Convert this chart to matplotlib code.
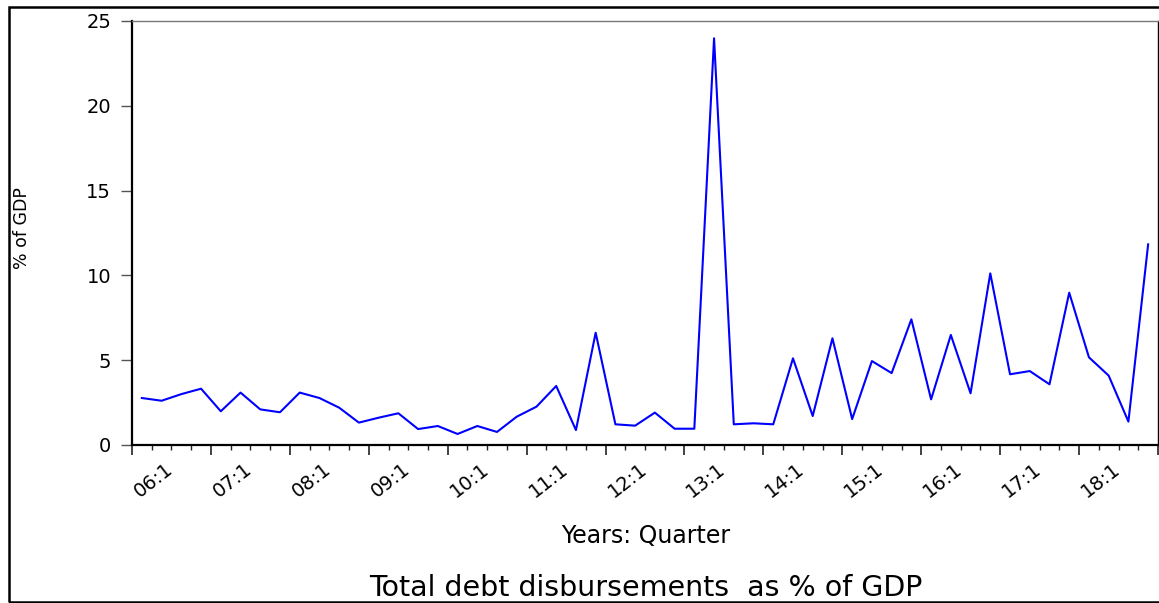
import matplotlib
matplotlib.use("Agg")
import matplotlib.pyplot as plt
import matplotlib.transforms as mtransforms
from matplotlib.patches import Rectangle
import numpy as np

# quarterly data 2006Q1 - 2018Q4, % of GDP
quarters = [f"{y:02d}:{q}" for y in range(6, 19) for q in range(1, 5)]
debt_pct = [2.77, 2.61, 3.00, 3.32, 1.99, 3.09, 2.10, 1.93,
            3.09, 2.77, 2.20, 1.32, 1.61, 1.87, 0.94, 1.12,
            0.65, 1.12, 0.77, 1.67, 2.26, 3.48, 0.88, 6.62,
            1.22, 1.14, 1.91, 0.96, 0.96, 23.98, 1.22, 1.28,
            1.22, 5.11, 1.71, 6.29, 1.53, 4.95, 4.24, 7.41,
            2.69, 6.49, 3.05, 10.12, 4.17, 4.36, 3.58, 8.98,
            5.17, 4.09, 1.38, 11.83]
year_labels = ["06:1", "07:1", "08:1", "09:1", "10:1", "11:1", "12:1",
               "13:1", "14:1", "15:1", "16:1", "17:1", "18:1"]
y_ticks = [0, 5, 10, 15, 20, 25]

W, H = 1159, 603
fig = plt.figure(figsize=(W / 100, H / 100), dpi=100)
ax = fig.add_axes([132 / W, 1 - 445 / H, (1158 - 132) / W, (445 - 21) / H])

x = np.arange(len(debt_pct))
ax.plot(x, debt_pct, color="#0000ff", linewidth=1.5)

ax.set_xlim(-0.5, len(debt_pct) - 0.5)
ax.set_ylim(0, 25)
ax.set_yticks(y_ticks)
ax.set_yticklabels([str(v) for v in y_ticks], fontsize=14)
ax.tick_params(axis="y", direction="out", length=8, width=1, color="#555555", pad=7)

ax.set_xticks(np.arange(-0.5, len(debt_pct), 4))
ax.set_xticks(np.arange(-0.5, len(debt_pct), 1), minor=True)
ax.set_xticklabels([])
ax.tick_params(axis="x", which="major", direction="out", length=7, width=1.2, color="#222222")
ax.tick_params(axis="x", which="minor", direction="out", length=3.6, width=1, color="#222222")

# year labels sit between the major ticks
lbl_tr = mtransforms.offset_copy(ax.get_xaxis_transform(), fig=fig, y=-35, units="dots")
for k, lab in enumerate(year_labels):
    ax.text(4 * k + 0.6, 0, lab, transform=lbl_tr, ha="center", va="center",
            rotation=38, fontsize=14)

ax.spines["left"].set_linewidth(1.6)
ax.spines["bottom"].set_linewidth(1.6)
ax.spines["top"].set_color("#777777")
ax.spines["top"].set_linewidth(1.0)
ax.spines["right"].set_linewidth(1.0)

fig.text(22 / W, 1 - 228 / H, "% of GDP", rotation=90, ha="center", va="center", fontsize=12.5)
fig.text(646 / W, 1 - 536 / H, "Years: Quarter", ha="center", va="center", fontsize=17)
fig.text(646 / W, 1 - 588 / H, "Total debt disbursements  as % of GDP",
         ha="center", va="center", fontsize=20.5)

# outer frame
fig.patches.append(Rectangle((8.5 / W, 1 / H), 1.1, (602 - 7) / H, transform=fig.transFigure,
                             fill=False, edgecolor="black", linewidth=1.8, clip_on=False))

fig.savefig("out.png", dpi=100)
